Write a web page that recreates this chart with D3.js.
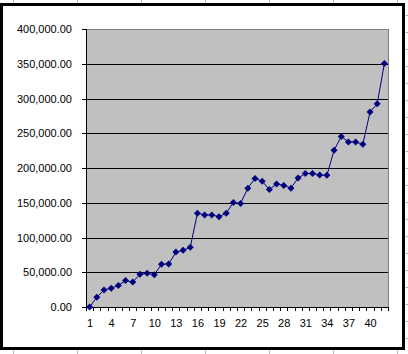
<!DOCTYPE html>
<meta charset="utf-8">
<style>
body { margin: 0; background: #fff; }
.axis text {
  font-family: "Liberation Sans", Arial, sans-serif;
  font-size: 11px;
  fill: #000;
}
.axis path, .axis line { stroke: #000; shape-rendering: crispEdges; }
</style>
<div id="chart"></div>
<script src="https://d3js.org/d3.v7.min.js"></script>
<script>
var categories = d3.range(1, 43);
var values = [0, 14000, 24500, 27000, 31000, 38000, 36000, 47000, 48500, 46500,
  61500, 62000, 79000, 81500, 86000, 135000, 132500, 132500, 130000, 135000,
  150500, 149000, 171000, 185000, 181000, 169000, 177000, 175000, 171000, 185500,
  192000, 192000, 190000, 189500, 225500, 245500, 237500, 237500, 234000, 280500,
  292500, 350500];
var xLabels = [1, 4, 7, 10, 13, 16, 19, 22, 25, 28, 31, 34, 37, 40];
var yTicks = [0, 50000, 100000, 150000, 200000, 250000, 300000, 350000, 400000];

var w = 408, h = 354,
  plotL = 86, plotR = 388, plotT = 29, plotB = 307;

var svg = d3.select("#chart").append("svg")
  .attr("width", w)
  .attr("height", h);

// spreadsheet cell lines behind the chart
var cols = [13.5, 77.5, 141.5, 205.5, 269.5, 333.5, 397.5];
svg.selectAll(".col").data(cols).enter().append("line")
  .attr("x1", function (d) { return d; }).attr("x2", function (d) { return d; })
  .attr("y1", 0).attr("y2", h)
  .attr("stroke", "#b8b8b8");
svg.selectAll(".row").data(d3.range(20)).enter().append("line")
  .attr("x1", 0).attr("x2", w)
  .attr("y1", function (d) { return 15.5 + d * 17; })
  .attr("y2", function (d) { return 15.5 + d * 17; })
  .attr("stroke", "#b8b8b8");

// chart frame
svg.append("rect")
  .attr("x", 1.5).attr("y", 4.5)
  .attr("width", 402).attr("height", 344)
  .attr("fill", "#fff")
  .attr("stroke", "#000")
  .attr("stroke-width", 3);

var x = d3.scaleLinear().domain([0.5, 42.5]).range([plotL, plotR]),
  y = d3.scaleLinear().domain([0, 400000]).range([plotB, plotT]);

// plot area
svg.append("rect")
  .attr("x", plotL + 0.5).attr("y", plotT + 0.5)
  .attr("width", plotR - plotL).attr("height", plotB - plotT)
  .attr("fill", "#c0c0c0")
  .attr("stroke", "#808080");

// gridlines
svg.selectAll(".grid").data(yTicks.slice(1, -1)).enter().append("line")
  .attr("x1", plotL).attr("x2", plotR)
  .attr("y1", function (d) { return Math.round(y(d)) + 0.5; })
  .attr("y2", function (d) { return Math.round(y(d)) + 0.5; })
  .attr("stroke", "#000");

var yAxis = d3.axisLeft(y)
  .tickValues(yTicks)
  .tickSize(4)
  .tickPadding(10)
  .tickFormat(d3.format(",.2f"));

svg.append("g")
  .attr("class", "axis")
  .attr("transform", "translate(" + plotL + ",0)")
  .call(yAxis)
  .call(function (g) { g.select(".domain").attr("d", "M0," + plotT + "V" + plotB); });

// category tick marks between categories
svg.append("g")
  .attr("class", "axis")
  .attr("transform", "translate(0," + plotB + ")")
  .call(d3.axisBottom(x)
    .tickValues(d3.range(0.5, 43, 1))
    .tickSize(4)
    .tickFormat(""))
  .call(function (g) { g.select(".domain").attr("d", "M" + plotL + ",0H" + plotR); });

svg.append("g")
  .attr("class", "axis")
  .attr("transform", "translate(0," + plotB + ")")
  .call(d3.axisBottom(x)
    .tickValues(xLabels)
    .tickSize(0)
    .tickPadding(12))
  .call(function (g) { g.select(".domain").remove(); });

// series
var line = d3.line()
  .x(function (d, i) { return x(categories[i]); })
  .y(function (d) { return y(d); });

svg.append("path")
  .datum(values)
  .attr("d", line)
  .attr("fill", "none")
  .attr("stroke", "#000080")
  .attr("stroke-width", 1);

svg.selectAll(".pt").data(values).enter().append("path")
  .attr("transform", function (d, i) { return "translate(" + x(categories[i]) + "," + y(d) + ")"; })
  .attr("d", "M0,-3.5L3.5,0L0,3.5L-3.5,0Z")
  .attr("fill", "#000080");
</script>
